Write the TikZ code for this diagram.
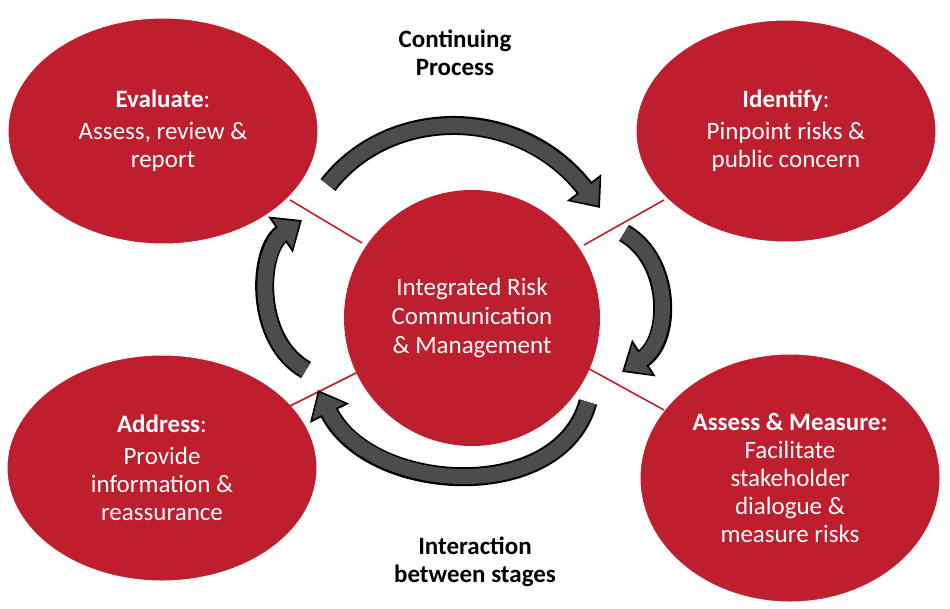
\documentclass[tikz,border=0pt]{standalone}
\usepackage{fontspec}
\setmainfont{Carlito}
\usetikzlibrary{arrows.meta,shapes.geometric}
\definecolor{rred}{RGB}{190,30,45}
\begin{document}
\begin{tikzpicture}[x=1pt,y=-1pt,
  blob/.style={ellipse,fill=rred,draw=white,line width=1pt,text=white,align=center,font=\fontsize{25}{28}\selectfont},
  link/.style={draw=rred,line width=1.6pt},
  outer/.style={line width=19pt,draw=black,-{Triangle[length=26pt,width=42pt]}},
  inner/.style={line width=15pt,draw=gray!60!black,shorten >=3pt,-{Triangle[length=21pt,width=35pt]}},
  lab/.style={font=\bfseries\fontsize{25}{28}\selectfont,align=center}]
\useasboundingbox (0,0) rectangle (950,608);
\node[circle,fill=rred,minimum size=256pt,text=white,align=center,font=\fontsize{25}{29}\selectfont] (c) at (472,318) {Integrated Risk\\Communication\\\& Management};
\node[blob,minimum width=310pt,minimum height=226pt] (ev) at (163,131) {\textbf{Evaluate}:\\[4pt]Assess, review \&\\report};
\node[blob,minimum width=300pt,minimum height=222pt] (id) at (786,131) {\textbf{Identify}:\\[4pt]Pinpoint risks \&\\public concern};
\node[blob,minimum width=310pt,minimum height=226pt] (ad) at (162,468) {\textbf{Address}:\\[4pt]Provide\\information \&\\reassurance};
\node[blob,minimum width=300pt,minimum height=248pt] (as) at (790,478) {\textbf{Assess \& Measure:}\\Facilitate\\stakeholder\\dialogue \&\\measure risks};
\coordinate (l1a) at (290,200); \coordinate (l1b) at (362,243);
\coordinate (l2a) at (584,245); \coordinate (l2b) at (664,200);
\coordinate (l3a) at (362,370); \coordinate (l3b) at (290,406);
\coordinate (l4a) at (584,366); \coordinate (l4b) at (664,410);
\draw[link] (l1a)--(l1b); \draw[link] (l2a)--(l2b);
\draw[link] (l3a)--(l3b); \draw[link] (l4a)--(l4b);
\coordinate (t0) at (328,185); \coordinate (t1) at (600,208);
\coordinate (r0) at (624,233); \coordinate (r1) at (622,372);
\coordinate (b0) at (588,402); \coordinate (b1) at (318,390);
\coordinate (f0) at (306,370); \coordinate (f1) at (302,220);
\foreach \s in {outer,inner}{
 \draw[\s] (t0) .. controls (390,105) and (520,105) .. (t1);
 \draw[\s] (r0) .. controls (672,260) and (672,340) .. (r1);
 \draw[\s] (b0) .. controls (560,505) and (370,495) .. (b1);
 \draw[\s] (f0) .. controls (253,340) and (258,250) .. (f1);
}
\node[lab] (cp) at (455,53) {Continuing\\Process};
\node[lab] (ib) at (475,562) {Interaction\\between stages};
\end{tikzpicture}
\end{document}
